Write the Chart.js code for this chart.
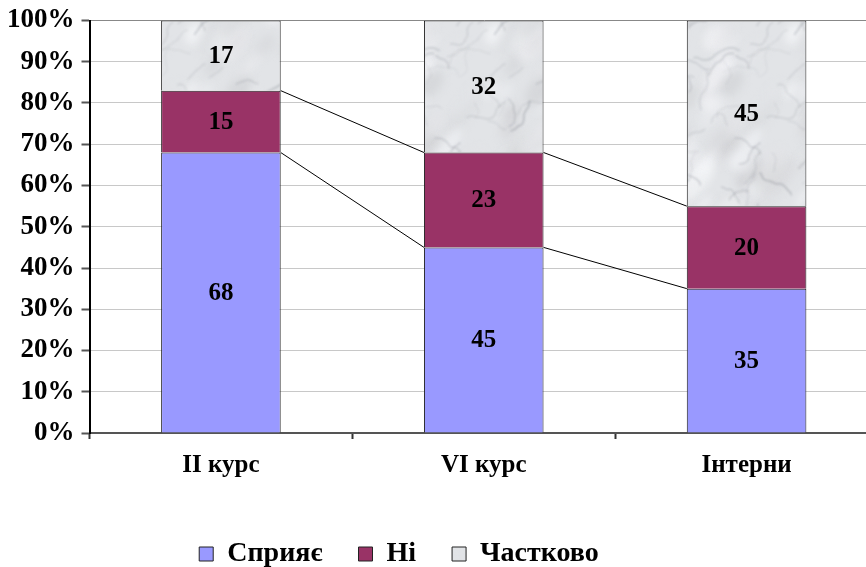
<!DOCTYPE html>
<html>
<head>
<meta charset="utf-8">
<script src="https://cdn.jsdelivr.net/npm/chart.js@4"></script>
<style>
  html, body { margin: 0; padding: 0; background: #fff; overflow: hidden; }
  .chart-container { position: relative; width: 878px; height: 567px; }
</style>
</head>
<body>
<div class="chart-container"><canvas id="surveyChart"></canvas></div>
<script>
const categories = ['II курс', 'VI курс', 'Інтерни'];
const supports = [68, 45, 35];
const no = [15, 23, 20];
const partly = [17, 32, 45];
const seriesNames = ['Сприяє', 'Ні', 'Частково'];

// marble-like texture for the third series
function marblePattern() {
    const c = document.createElement('canvas');
    c.width = 300; c.height = 460;
    const g = c.getContext('2d');
    g.fillStyle = '#e2e4e7';
    g.fillRect(0, 0, c.width, c.height);
    let seed = 11;
    const rnd = () => { seed = (seed * 16807) % 2147483647; return seed / 2147483647; };
    g.filter = 'blur(4px)';
    for (let i = 0; i < 240; i++) {
        const v = Math.round(200 + rnd() * 55);
        g.fillStyle = 'rgba(' + v + ',' + (v + 1) + ',' + (v + 4) + ',0.6)';
        g.beginPath();
        g.ellipse(rnd() * c.width, rnd() * c.height, 6 + rnd() * 20, 3 + rnd() * 8, -0.9, 0, Math.PI * 2);
        g.fill();
    }
    g.filter = 'blur(0.8px)';
    for (let i = 0; i < 160; i++) {
        let x = rnd() * c.width, y = rnd() * c.height;
        let dir = -0.9 + (rnd() - 0.5) * 1.4;
        g.strokeStyle = 'rgba(110,115,125,' + (0.12 + rnd() * 0.3) + ')';
        g.lineWidth = 0.5 + rnd() * 1.1;
        g.beginPath();
        g.moveTo(x, y);
        const steps = 6 + Math.floor(rnd() * 12);
        for (let k = 0; k < steps; k++) {
            dir += (rnd() - 0.5) * 1.2;
            x += Math.cos(dir) * 3;
            y += Math.sin(dir) * 3;
            g.lineTo(x, y);
        }
        g.stroke();
    }
    g.filter = 'none';
    return g.createPattern(c, 'repeat');
}

const serif = '"Liberation Serif", "Times New Roman", serif';

const segmentLabels = {
    id: 'segmentLabels',
    afterDatasetsDraw(chart) {
        const ctx = chart.ctx;
        ctx.save();
        ctx.font = 'bold 25px ' + serif;
        ctx.fillStyle = '#000';
        ctx.textAlign = 'center';
        ctx.textBaseline = 'middle';
        chart.data.datasets.forEach((ds, di) => {
            chart.getDatasetMeta(di).data.forEach((el, i) => {
                ctx.fillText(String(ds.data[i]), el.x, (el.y + el.base) / 2 + 1);
            });
        });
        ctx.restore();
    }
};

// Excel-style series lines between stacked bars
const seriesLines = {
    id: 'seriesLines',
    afterDatasetsDraw(chart) {
        const ctx = chart.ctx;
        ctx.save();
        ctx.strokeStyle = '#000';
        ctx.lineWidth = 1;
        [0, 1].forEach(di => {
            const els = chart.getDatasetMeta(di).data;
            for (let i = 0; i < els.length - 1; i++) {
                const a = els[i], b = els[i + 1];
                ctx.beginPath();
                ctx.moveTo(a.x + a.width / 2, a.y);
                ctx.lineTo(b.x - b.width / 2, b.y);
                ctx.stroke();
            }
        });
        ctx.restore();
    }
};

// legend sits left of centre and a bit lower in the original
const shiftLegend = {
    id: 'shiftLegend',
    afterLayout(chart) {
        chart.legend.left -= 40;
        chart.legend.right -= 40;
        chart.legend.top += 11;
        chart.legend.bottom += 11;
    }
};

document.addEventListener('DOMContentLoaded', () => {
    const ctx = document.getElementById('surveyChart').getContext('2d');
    const marble = marblePattern();
    new Chart(ctx, {
        type: 'bar',
        data: {
            labels: categories,
            datasets: [
                { label: seriesNames[0], data: supports, backgroundColor: '#9999ff', borderColor: '#222', borderWidth: 1 },
                { label: seriesNames[1], data: no, backgroundColor: '#993366', borderColor: '#222', borderWidth: 1 },
                { label: seriesNames[2], data: partly, backgroundColor: marble, borderColor: '#222', borderWidth: 1 }
            ]
        },
        options: {
            responsive: true,
            maintainAspectRatio: false,
            animation: false,
            layout: { padding: { left: 0, right: 0, top: 0, bottom: 0 } },
            datasets: { bar: { categoryPercentage: 0.455, barPercentage: 1 } },
            scales: {
                x: {
                    stacked: true,
                    grid: { offset: true, drawOnChartArea: false, tickLength: 6, tickColor: '#333', tickWidth: 2 },
                    border: { color: '#555', width: 2 },
                    ticks: { color: '#000', padding: 12, font: { family: serif, weight: 'bold', size: 25 } }
                },
                y: {
                    stacked: true,
                    min: 0,
                    max: 100,
                    grid: { color: ctx => ctx.tick && ctx.tick.value === 100 ? '#888' : '#c8c8c8', tickLength: 8, tickColor: '#555', tickWidth: 2 },
                    border: { color: '#000', width: 2 },
                    ticks: {
                        stepSize: 10,
                        color: '#000',
                        padding: 7,
                        font: { family: serif, weight: 'bold', size: 27, lineHeight: 1.0 },
                        callback: v => v + '%'
                    }
                }
            },
            plugins: {
                legend: {
                    position: 'bottom',
                    labels: {
                        color: '#000',
                        boxWidth: 14,
                        boxHeight: 14,
                        padding: 36,
                        font: { family: serif, weight: 'bold', size: 28 }
                    }
                },
                tooltip: { enabled: false }
            }
        },
        plugins: [seriesLines, segmentLabels, shiftLegend]
    });
});
</script>
</body>
</html>
